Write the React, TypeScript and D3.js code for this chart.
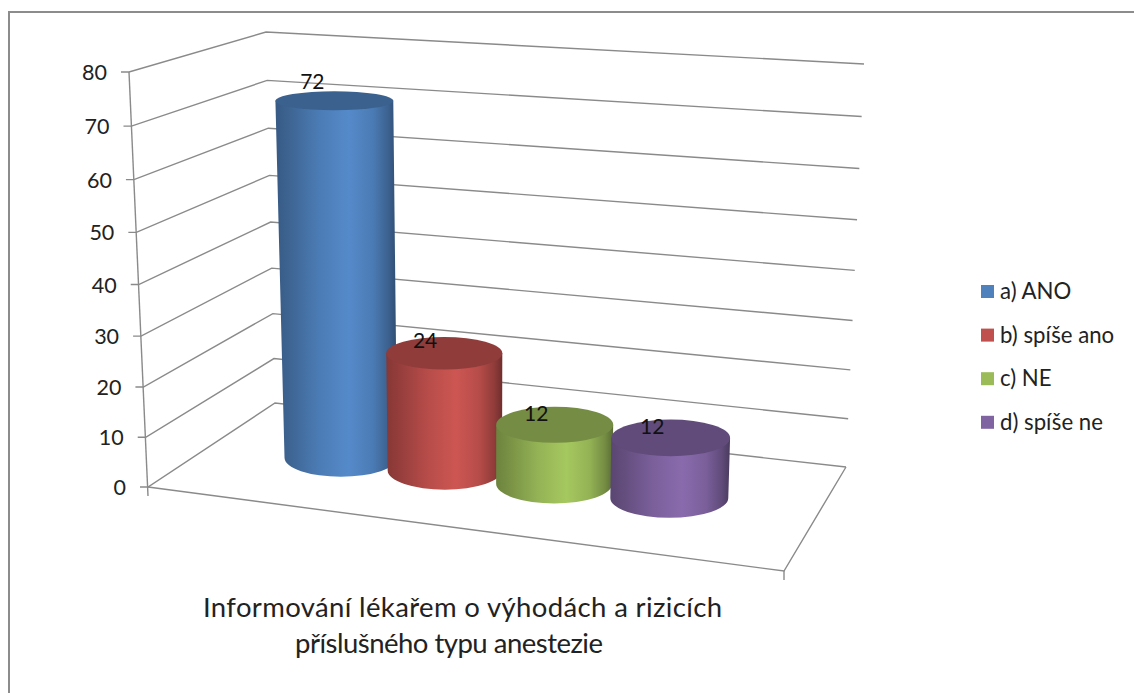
import React from "react";
import * as d3 from "d3";

const categories = ["a) ANO", "b) spíše ano", "c) NE", "d) spíše ne"];
const seriesValues = [72, 24, 12, 12];
const baseColors = ["#4f81bd", "#c0504d", "#9bbb59", "#8064a2"];
const axisTicks = [0, 10, 20, 30, 40, 50, 60, 70, 80];
const titleLines = [
  "Informování lékařem o výhodách a rizicích",
  "příslušného typu anestezie",
];

const WIDTH = 1134;
const HEIGHT = 693;
const FONT = "Lato, 'Open Sans', sans-serif";
const LINE = "#8a8a8a";

type Pt = { x: number; y: number };

// Corners of the 3D plot box on screen.
const floorFrontLeft: Pt = { x: 148, y: 487 };
const floorFrontRight: Pt = { x: 784, y: 571 };
const floorBackLeft: Pt = { x: 275, y: 403 };
const floorBackRight: Pt = { x: 846, y: 467 };
const topFrontLeft: Pt = { x: 129, y: 72 };
const topFrontRight: Pt = { x: 800, y: 121 };
const topBackLeft: Pt = { x: 266, y: 32 };
const topBackRight: Pt = { x: 864, y: 64 };

const mix = (a: Pt, b: Pt, t: number): Pt => ({
  x: a.x + (b.x - a.x) * t,
  y: a.y + (b.y - a.y) * t,
});

// Foreshortening: the far end of each axis is compressed a little.
const foreshorten = (t: number, k: number) => t / (1 + k * (1 - t));
const valueScale = d3.scaleLinear().domain([0, 80]).range([0, 1]);

// a is the position along the front edge, w from front to back, v the value.
function place(a: number, w: number, v: number): Pt {
  const floor = mix(
    mix(floorFrontLeft, floorFrontRight, a),
    mix(floorBackLeft, floorBackRight, a),
    w
  );
  const top = mix(
    mix(topFrontLeft, topFrontRight, a),
    mix(topBackLeft, topBackRight, a),
    w
  );
  return mix(floor, top, foreshorten(valueScale(v), 0.05));
}

const across = (u: number) => foreshorten(u, 0.15);

const bandScale = d3.scaleBand<string>().domain(categories).range([0.1416, 0.8708]);
const DEPTH = 0.53;
const ryScale = d3.scaleLinear().domain([100, 500]).range([9.5, 20]);
const labelLift = d3.scaleLinear().domain([12, 72]).range([12, 20]);
const labelShift = d3.scaleLinear().domain([12, 72]).range([18.5, 22]);
const radiusScale = d3.scaleLinear().domain([0, 1]).range([0.092, 0.1]);

function shade(color: string, k: number) {
  const c = d3.rgb(color);
  return d3.rgb(c.r * k, c.g * k, c.b * k).formatHex();
}

const sideStops: [number, number][] = [
  [0, 0.7],
  [0.12, 0.78],
  [0.35, 0.95],
  [0.6, 1.07],
  [0.8, 0.95],
  [0.93, 0.75],
  [1, 0.58],
];

const centerOf = (name: string) =>
  across((bandScale(name) as number) + bandScale.bandwidth() / 2);

function ellipseAt(a: number, v: number) {
  const half = radiusScale(a);
  const left = place(a - half, DEPTH, v);
  const right = place(a + half, DEPTH, v);
  const cx = (left.x + right.x) / 2;
  const cy = (left.y + right.y) / 2;
  return { cx, cy, rx: (right.x - left.x) / 2, ry: ryScale(cy) };
}

function Cylinder({ index }: { index: number }) {
  const name = categories[index];
  const value = seriesValues[index];
  const color = baseColors[index];
  const a = centerOf(name);
  const base = ellipseAt(a, 0);
  const cap = ellipseAt(a, value);
  const side = d3.path();
  side.moveTo(cap.cx - cap.rx, cap.cy);
  side.lineTo(cap.cx + cap.rx, cap.cy);
  side.lineTo(base.cx + base.rx, base.cy);
  const arc = `A${base.rx},${base.ry} 0 0 1 ${base.cx - base.rx},${base.cy}`;
  return (
    <g>
      <defs>
        <linearGradient id={`side-${index}`} x1="0" x2="1" y1="0" y2="0">
          {sideStops.map(([o, k]) => (
            <stop key={o} offset={o} stopColor={shade(color, k)} />
          ))}
        </linearGradient>
      </defs>
      <path d={`${side.toString()}${arc}Z`} fill={`url(#side-${index})`} />
      <ellipse cx={cap.cx} cy={cap.cy} rx={cap.rx} ry={cap.ry} fill={shade(color, 0.75)} />
    </g>
  );
}

function ValueLabel({ index }: { index: number }) {
  const value = seriesValues[index];
  const cap = place(centerOf(categories[index]), DEPTH, value);
  return (
    <text
      x={cap.x - labelShift(value)}
      y={cap.y - labelLift(value)}
      textAnchor="middle"
      dominantBaseline="central"
      fontFamily={FONT}
      fontSize={21}
      fill="#111"
    >
      {value}
    </text>
  );
}

export default function App() {
  return (
    <svg
      width={WIDTH}
      height={HEIGHT}
      viewBox={`0 0 ${WIDTH} ${HEIGHT}`}
      style={{ position: "absolute", left: 0, top: 0, background: "#fff" }}
    >
      {/* chart frame: only the top and left edges show */}
      <path d={`M9,${HEIGHT}V12H${WIDTH}`} fill="none" stroke="#8c8c8c" strokeWidth={2} />

      {/* gridlines on the side and back walls, ticks and value axis labels */}
      <g fill="none" stroke={LINE} strokeWidth={1.4}>
        {axisTicks.map((t) => {
          const front = place(0, 0, t);
          const backL = place(0, 1, t);
          const backR = place(1, 1, t);
          return (
            <path
              key={t}
              d={`M${front.x - 8},${front.y}L${front.x},${front.y}L${backL.x},${backL.y}L${backR.x},${backR.y}`}
            />
          );
        })}
        <path d={`M${topFrontLeft.x},${topFrontLeft.y}L${floorFrontLeft.x},${floorFrontLeft.y + 9}`} />
        <path
          d={`M${floorFrontLeft.x},${floorFrontLeft.y}L${floorFrontRight.x},${floorFrontRight.y}L${floorBackRight.x},${floorBackRight.y}`}
        />
        <path
          d={`M${floorFrontRight.x},${floorFrontRight.y}V${floorFrontRight.y + 9}`}
        />
      </g>
      {axisTicks.map((t) => {
        const front = place(0, 0, t);
        return (
          <text
            key={t}
            x={front.x - 22}
            y={front.y}
            textAnchor="end"
            dominantBaseline="central"
            fontFamily={FONT}
            fontSize={21.5}
            fill="#222"
          >
            {t}
          </text>
        );
      })}

      {categories.map((_, i) => (
        <Cylinder key={i} index={i} />
      ))}
      {categories.map((_, i) => (
        <ValueLabel key={i} index={i} />
      ))}

      {/* legend */}
      {categories.map((name, i) => {
        const y = 291.5 + i * 43.6;
        return (
          <g key={name}>
            <rect x={981} y={y - 6.5} width={13} height={13} fill={baseColors[i]} />
            <text
              x={1000}
              y={y - 1}
              dominantBaseline="central"
              fontFamily={FONT}
              fontSize={22.2}
              fill="#222"
            >
              {name}
            </text>
          </g>
        );
      })}

      {/* category axis title */}
      {titleLines.map((line, i) => (
        <text
          key={line}
          x={i === 0 ? 203 : 295}
          y={606 + i * 36}
          textLength={i === 0 ? 519 : 308}
          lengthAdjust="spacing"
          dominantBaseline="central"
          fontFamily={FONT}
          fontSize={27.5}
          fill="#222"
        >
          {line}
        </text>
      ))}
    </svg>
  );
}
